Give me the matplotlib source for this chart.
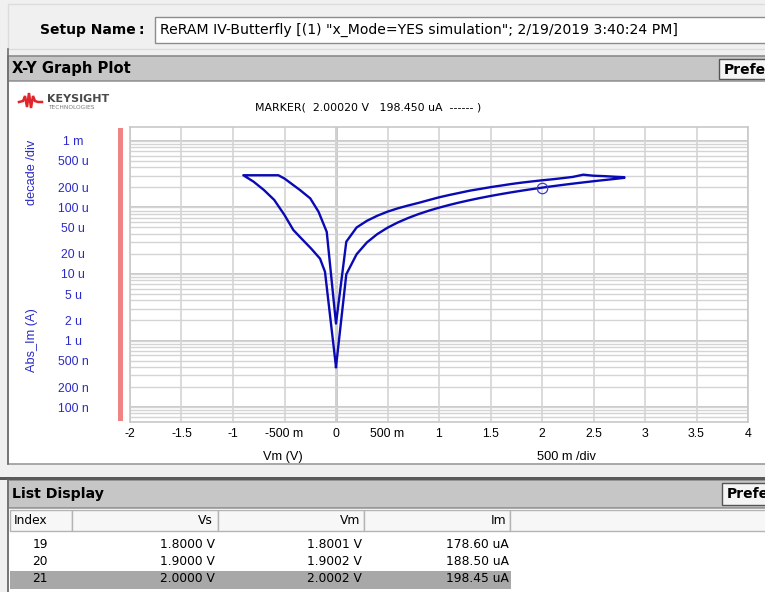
import matplotlib
matplotlib.use("Agg")
import matplotlib.pyplot as plt
from matplotlib.patches import Rectangle
from matplotlib.ticker import LogLocator, NullFormatter

plt.rcParams['font.family'] = ['DejaVu Sans']
NARROW = ['Liberation Sans Narrow', 'Liberation Sans', 'DejaVu Sans']

# forward sweep 0 -> 2.8 V (high resistance branch)
vm_set = [0.0, 0.1, 0.2, 0.3, 0.4, 0.5, 0.6, 0.7, 0.8, 0.9, 1.0, 1.1, 1.2, 1.3, 1.4,
          1.5, 1.6, 1.7, 1.8001, 1.9002, 2.0002, 2.1, 2.2, 2.3, 2.4, 2.5, 2.6, 2.7, 2.8]
im_set_ua = [0.40, 9.9, 19.8, 29.8, 39.7, 49.6, 59.5, 69.4, 79.4, 89.3, 99.2, 109.1, 119.0, 128.9, 138.9,
             148.8, 158.7, 168.6, 178.60, 188.50, 198.45, 208.3, 218.2, 228.1, 238.0, 248.0, 257.9, 267.8, 279.0]

# return sweep 2.8 -> 0 V (low resistance branch)
vm_reset = [2.8, 2.7, 2.6, 2.5, 2.4, 2.3, 2.2, 2.1, 2.0, 1.9, 1.8, 1.7, 1.6, 1.5, 1.4,
            1.3, 1.2, 1.1, 1.0, 0.9, 0.8, 0.7, 0.6, 0.5, 0.4, 0.3, 0.2, 0.1, 0.0]
im_reset_ua = [285, 290, 296, 300, 311, 288, 276, 265, 256, 246, 236, 225, 213, 202, 190,
               179, 166, 154, 142, 129, 117, 107, 97, 86.5, 75, 63, 50, 30.6, 1.8]

# negative sweep 0 -> -0.9 V
vm_neg_on = [-0.09, -0.17, -0.25, -0.35, -0.5, -0.56, -0.6, -0.7, -0.8, -0.9]
im_neg_on_ua = [43, 86.5, 137, 183, 272, 305, 305, 305, 305, 305]

# negative return -0.9 -> 0 V
vm_neg_off = [-0.8, -0.7, -0.6, -0.5, -0.415, -0.35, -0.24, -0.155, -0.107, 0.0]
im_neg_off_ua = [244, 183, 130, 77, 46, 36, 24, 17, 10.8, 0.40]

# marker and list display rows
marker_v = 2.0002
marker_i_ua = 198.45
list_index = [19, 20, 21]
list_vs = [1.8000, 1.9000, 2.0000]
list_vm = [1.8001, 1.9002, 2.0002]
list_im_ua = [178.60, 188.50, 198.45]

ytick_vals = [1e-3, 5e-4, 2e-4, 1e-4, 5e-5, 2e-5, 1e-5, 5e-6, 2e-6, 1e-6, 5e-7, 2e-7, 1e-7]
ytick_labels = ['1 m', '500 u', '200 u', '100 u', '50 u', '20 u', '10 u', '5 u',
                '2 u', '1 u', '500 n', '200 n', '100 n']
xtick_vals = [-2, -1.5, -1, -0.5, 0, 0.5, 1, 1.5, 2, 2.5, 3, 3.5, 4]
xtick_labels = ['-2', '-1.5', '-1', '-500 m', '0', '500 m', '1', '1.5', '2', '2.5', '3', '3.5', '4']

W, H = 765, 592
fig = plt.figure(figsize=(W / 100, H / 100), dpi=100, facecolor='#f0f0f0')

# window chrome, in pixel coordinates
ui = fig.add_axes([0, 0, 1, 1])
ui.set_xlim(0, W)
ui.set_ylim(H, 0)
ui.axis('off')


def box(x0, y0, x1, y1, fc, ec='none', lw=1.0, z=1):
    ui.add_patch(Rectangle((x0, y0), x1 - x0, y1 - y0, fc=fc, ec=ec, lw=lw, zorder=z))


# setup name strip
box(8, 4, 780, 49, '#f0f0f0', '#dcdcdc')
ui.text(40, 30, 'Setup Name', fontsize=10, fontweight='bold', va='center')
ui.text(139, 30, ':', fontsize=10, fontweight='bold', va='center')
box(155, 17, 780, 43, 'white', '#8c8c8c')
ui.text(160, 30, 'ReRAM IV-Butterfly [(1) "x_Mode=YES simulation"; 2/19/2019 3:40:24 PM]',
        fontsize=10.1, va='center')

# X-Y graph header and plot panel
box(8, 56, 780, 81, '#c6c6c6', '#8a8a8a', lw=1.2)
ui.text(12, 69, 'X-Y Graph Plot', fontsize=10.6, fontweight='bold', va='center')
box(719, 59, 780, 79, '#f4f4f4', '#555555')
ui.text(724, 69.5, 'Prefe', fontsize=10, fontweight='bold', va='center')
box(8, 81, 780, 464, 'white', '#9a9a9a', lw=1.2)
ui.plot([8, 8], [49, 464], color='#6e6e6e', lw=1.2, zorder=2)

# logo
ui.plot([19, 23, 25, 27, 29, 31, 33, 35, 38, 42], [102, 101, 96, 107, 93, 108, 96, 101, 102, 102],
        color='#e0262c', lw=1.8, solid_joinstyle='miter', zorder=3)
ui.text(47, 99, 'KEYSIGHT', fontsize=8, fontweight='bold', color='#4a4a4a', va='center')
ui.text(48, 107.5, 'TECHNOLOGIES', fontsize=4.2, color='#7a7a7a', va='center')

ui.text(255, 108, 'MARKER(  %.5f V   %.3f uA  ------ )' % (marker_v, marker_i_ua),
        fontsize=7.9, va='center')

# red bar beside the y axis
box(118, 128, 123, 421, '#f08484', z=3)

ui.text(32, 172, 'decade /div', rotation=90, fontsize=9.2, color='#2a2ac8',
        va='center', ha='center', family=NARROW)
ui.text(32, 340, 'Abs_Im (A)', rotation=90, fontsize=9.2, color='#2a2ac8',
        va='center', ha='center', family=NARROW)
ui.text(283, 457, 'Vm (V)', fontsize=9.2, va='center', ha='center', family=NARROW)
ui.text(566, 457, '500 m /div', fontsize=9.2, va='center', ha='center', family=NARROW)

# list display panel
box(0, 477, 780, 480, '#5a5a5a', z=2)
box(8, 480, 780, 508, '#c6c6c6', '#8a8a8a', lw=1.2)
ui.text(12, 494, 'List Display', fontsize=10.2, fontweight='bold', va='center')
box(722, 483, 780, 505, '#f4f4f4', '#555555')
ui.text(727, 494.5, 'Prefe', fontsize=10, fontweight='bold', va='center')
box(8, 508, 780, 600, 'white', '#9a9a9a', lw=1.2)
ui.plot([8, 8], [480, 592], color='#6e6e6e', lw=1.2, zorder=2)

cols = [(10, 72), (72, 218), (218, 364), (364, 510), (510, 780)]
for x0, x1 in cols:
    box(x0, 510, x1, 531, '#f7f7f7', '#b4b4b4', lw=1.0, z=2)
ui.text(14, 521, 'Index', fontsize=8.8, va='center', zorder=3)
ui.text(213, 521, 'Vs', fontsize=8.8, va='center', ha='right', zorder=3)
ui.text(360, 521, 'Vm', fontsize=8.8, va='center', ha='right', zorder=3)
ui.text(506, 521, 'Im', fontsize=8.8, va='center', ha='right', zorder=3)

row_y = [544, 561.5, 579]
box(10, 571, 511, 588.5, '#a8a8a8', z=2)
for k in range(len(list_index)):
    y = row_y[k]
    ui.text(48, y, str(list_index[k]), fontsize=8.8, va='center', ha='right', zorder=3)
    ui.text(215, y, '%.4f V' % list_vs[k], fontsize=8.8, va='center', ha='right', zorder=3)
    ui.text(362, y, '%.4f V' % list_vm[k], fontsize=8.8, va='center', ha='right', zorder=3)
    ui.text(509, y, '%.2f uA' % list_im_ua[k], fontsize=8.8, va='center', ha='right', zorder=3)

# the graph itself
ax = fig.add_axes([130 / W, 1 - 422 / H, 618 / W, 295 / H])
ax.set_facecolor('white')
ax.set_yscale('log')
ax.set_xlim(-2, 4)
ax.set_ylim(5.96e-8, 1.62e-3)

ax.yaxis.set_minor_locator(LogLocator(base=10, subs=range(1, 10), numticks=50))
ax.yaxis.set_minor_formatter(NullFormatter())
ax.set_yticks(ytick_vals, ytick_labels)
ax.set_xticks(xtick_vals, xtick_labels)
ax.tick_params(axis='both', which='both', length=0)
ax.tick_params(axis='y', pad=41, labelsize=8.8, labelcolor='#2a2ac8')
ax.tick_params(axis='x', pad=4.5, labelsize=8.8)
for lbl in ax.get_yticklabels():
    lbl.set_ha('center')
    lbl.set_family(NARROW)
for lbl in ax.get_xticklabels():
    lbl.set_family(NARROW)

ax.grid(True, which='both', axis='y', color='#d4d4d4', lw=1.0)
ax.grid(True, which='major', axis='x', color='#d4d4d4', lw=1.2)
for dec in [1e-3, 1e-4, 1e-5, 1e-6, 1e-7]:
    ax.axhline(dec, color='#c8c8c8', lw=1.4, zorder=1)
ax.axvline(0, color='#c4c4c4', lw=2.0, zorder=1)
for s in ax.spines.values():
    s.set_color('#c8c8c8')
    s.set_linewidth(1.2)

vm_all = vm_set + vm_reset + vm_neg_on + vm_neg_off
im_all = [v * 1e-6 for v in im_set_ua + im_reset_ua + im_neg_on_ua + im_neg_off_ua]
ax.plot(vm_all, im_all, color='#0a0ab4', lw=1.7, zorder=3)
ax.plot([marker_v], [marker_i_ua * 1e-6], 'o', mfc='none', mec='#3a3ad0', ms=7.5, mew=0.9, zorder=4)

fig.savefig('out.png', dpi=100, facecolor=fig.get_facecolor())
